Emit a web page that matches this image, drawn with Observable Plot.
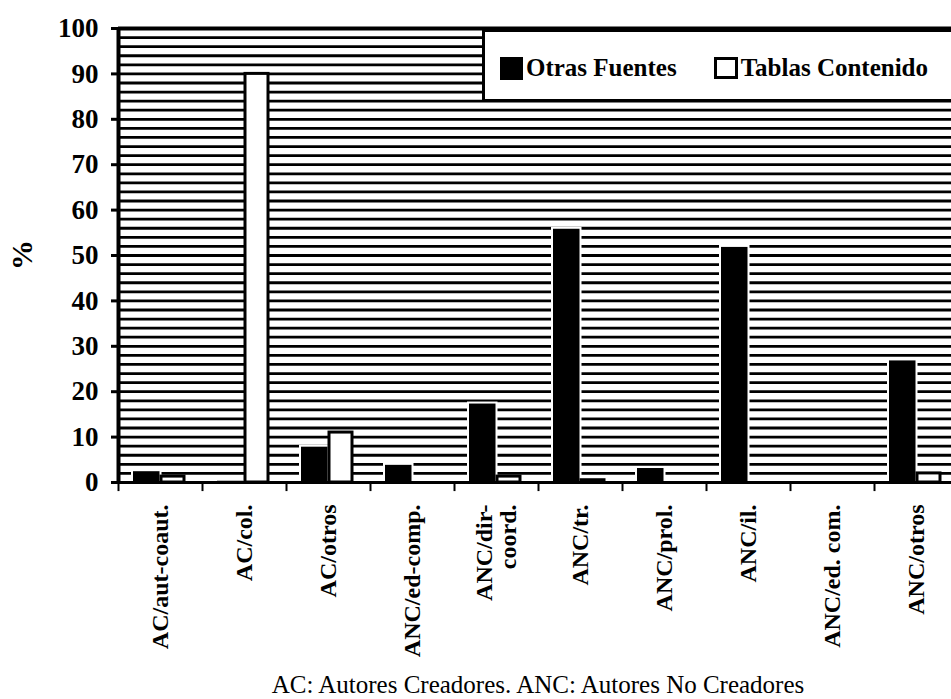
<!DOCTYPE html>
<html><head><meta charset="utf-8">
<script src="https://cdn.jsdelivr.net/npm/d3@7"></script>
<script src="https://cdn.jsdelivr.net/npm/@observablehq/plot@0.6"></script>
<style>
html,body{margin:0;padding:0;background:#fff;overflow:hidden;}
#wrap{position:relative;width:960px;height:699px;}
#legend{position:absolute;left:482px;top:29px;width:480px;height:73px;border:3px solid #000;background:#fff;box-sizing:border-box;padding-top:5px;display:flex;align-items:center;font:bold 25px "Liberation Serif",serif;color:#000;}
#legend .sw{display:inline-block;width:23px;height:23px;box-sizing:border-box;}
#legend .blk{background:#000;margin-left:15px;}
#legend .wht{background:#fff;border:3px solid #000;margin-left:37px;width:24px;height:22px;}
#legend .tx{margin-left:3px;}
#ylab{position:absolute;left:8px;top:242px;width:28px;height:28px;font:bold 30px "Liberation Serif",serif;transform:rotate(-90deg);line-height:28px;text-align:center;}
#caption{position:absolute;left:0;top:672px;width:960px;box-sizing:border-box;padding-left:118px;padding-right:2px;text-align:center;font:25px "Liberation Serif",serif;line-height:26px;color:#000;}
</style></head><body>
<div id="wrap"><div id="chart"></div>
<div id="legend"><span class="sw blk"></span><span class="tx">Otras Fuentes</span><span class="sw wht"></span><span class="tx">Tablas Contenido</span></div>
<div id="ylab">%</div>
<div id="caption">AC: Autores Creadores. ANC: Autores No Creadores</div>
</div>
<script>
const categories = ["AC/aut-coaut.", "AC/col.", "AC/otros", "ANC/ed-comp.", "ANC/dir-\ncoord.", "ANC/tr.", "ANC/prol.", "ANC/il.", "ANC/ed. com.", "ANC/otros"];
const otrasFuentes = [2.6, 0.5, 8, 4, 17.5, 56, 3.3, 52, 0, 27];
const tablasContenido = [1.3, 90, 11, 0, 1.3, 0.5, 0, 0, 0, 2];
const yTicks = [0, 10, 20, 30, 40, 50, 60, 70, 80, 90, 100];
const hatchLines = d3.range(2, 100, 2);

const rows = categories.map((c, i) => ({category: c, otras: otrasFuentes[i], tablas: tablasContenido[i]}));

const W = 960, H = 672, ML = 118, MR = 2, MT = 28, MB = 190;
const bw = (W - ML - MR) / categories.length;

const chart = Plot.plot({
  width: W, height: H,
  marginLeft: ML, marginRight: MR, marginTop: MT, marginBottom: MB,
  style: {fontFamily: "Liberation Serif, serif", color: "#000", background: "#fff", overflow: "visible"},
  x: {domain: categories, padding: 0, axis: null},
  y: {domain: [0, 100], axis: null},
  marks: [
    Plot.ruleY(hatchLines, {stroke: "#000", strokeWidth: 2.8}),
    Plot.barY(rows, {x: "category", y: "otras", fill: "#000", stroke: "#fff", strokeWidth: 2, insetLeft: 14, insetRight: 41.5}),
    Plot.barY(rows, {x: "category", y: "tablas", fill: "#fff", stroke: "#000", strokeWidth: 3, insetLeft: 43, insetRight: 18}),
    Plot.ruleY([0], {stroke: "#000", strokeWidth: 3}),
    Plot.ruleY([100], {stroke: "#000", strokeWidth: 4}),
    Plot.ruleX([categories[0]], {dx: -bw / 2, stroke: "#000", strokeWidth: 4}),
    Plot.ruleX(categories, {dx: -bw / 2, y1: -0.4, y2: -2, stroke: "#000", strokeWidth: 2}),
    Plot.axisY({ticks: yTicks, tickSize: 7, tickPadding: 13, strokeWidth: 3, fontSize: 27, fontWeight: "bold", label: null}),
    Plot.axisX({tickSize: 0, tickRotate: -90, tickPadding: 22, fontSize: 24, fontWeight: "bold", label: null})
  ]
});
document.getElementById("chart").appendChild(chart);
</script>
</body></html>
